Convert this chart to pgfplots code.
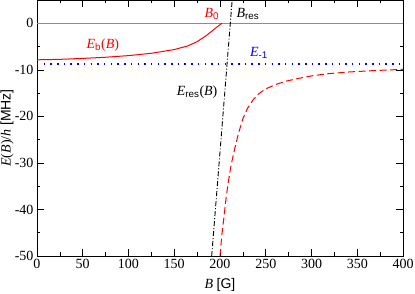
\documentclass[border=0pt]{standalone}
\usepackage{fontspec}
\setmainfont{Liberation Serif}
\setsansfont{Liberation Sans}
\usepackage{pgfplots}
\pgfplotsset{compat=1.18}
\usetikzlibrary{calc}
\definecolor{zgray}{RGB}{140,140,140}
\newcommand{\fs}{\fontsize{14}{16}\selectfont}
\begin{document}
\begin{tikzpicture}
\begin{axis}[
  scale only axis, width=366pt, height=256pt,
  xmin=0, xmax=400, ymin=-50, ymax=5,
  xtick={0,50,...,400}, ytick={-50,-40,...,0},
  minor x tick num=1, minor y tick num=1,
  tick align=inside, major tick length=7pt, minor tick length=3.5pt,
  every tick/.style={black, line width=0.6pt},
  axis line style={line width=0.8pt},
  /pgf/number format/assume math mode=true,
  ticklabel style={font=\fs},
  label style={font=\fs},
  xlabel={\textit{B} \textsf{[G]}},
  ylabel={\textit{E}(\textit{B})/\textit{h} \textsf{[MHz]}},
  xlabel style={at={(axis description cs:0.5,-0.113)}, anchor=center},
  ylabel style={at={(axis description cs:-0.082,0.5)}, anchor=center},
  clip=true,
]
% zero line
\addplot[zgray, line width=1.2pt] coordinates {(0,0) (400,0)};
% E_-1
\addplot[blue, line width=1.6pt, dash pattern=on 1.5pt off 5.2pt] coordinates {(0,-8.8) (400,-8.8)};
% E_b(B)
\addplot[red, line width=1pt] coordinates {
(0,-7.85) (25,-7.75) (50,-7.55) (75,-7.3) (100,-6.95) (125,-6.45) (150,-5.65)
(165,-4.85) (175,-3.95) (185,-2.65) (192,-1.55) (198,-0.6) (202,0)};
% dressed state (dashed)
\addplot[red, line width=1pt, dash pattern=on 7pt off 3.5pt] coordinates {
(200,-50) (202,-45.5) (204.4,-41.5) (206.5,-37.8) (209,-34.2) (212,-30.6) (216,-27) (220,-23.8)
(225,-20.5) (230,-18.3) (236,-16.5) (242,-15.2) (249,-14.2) (260,-13.2) (273,-12.4)
(287,-11.8) (300,-11.3) (320,-10.8) (342,-10.45) (370,-10.15) (400,-9.9)};
% E_res(B)
\addplot[black, line width=0.9pt, dash pattern=on 5pt off 2pt on 1pt off 2pt] coordinates {(190.9,-50) (213.3,5)};
\node[red, font=\fs] at (axis cs:72,-4.6) {\textit{E}\textsubscript{\sffamily b}(\textit{B})};
\node[red, font=\fs] at (axis cs:191,2.0) {\textit{B}\textsubscript{\sffamily 0}};
\node[black, font=\fs] at (axis cs:230.5,2.0) {\textit{B}\textsubscript{\sffamily res}};
\node[blue, font=\fs] at (axis cs:242.6,-6.3) {\textit{E}\textsubscript{\sffamily -1}};
\node[black, font=\fs] at (axis cs:175,-14.8) {\textit{E}\textsubscript{\sffamily res}(\textit{B})};
\end{axis}
\pgfresetboundingbox
\path ($(current axis.south west)+(-37pt,-38pt)$) rectangle ($(current axis.north east)+(12pt,0pt)$);
\end{tikzpicture}
\end{document}
